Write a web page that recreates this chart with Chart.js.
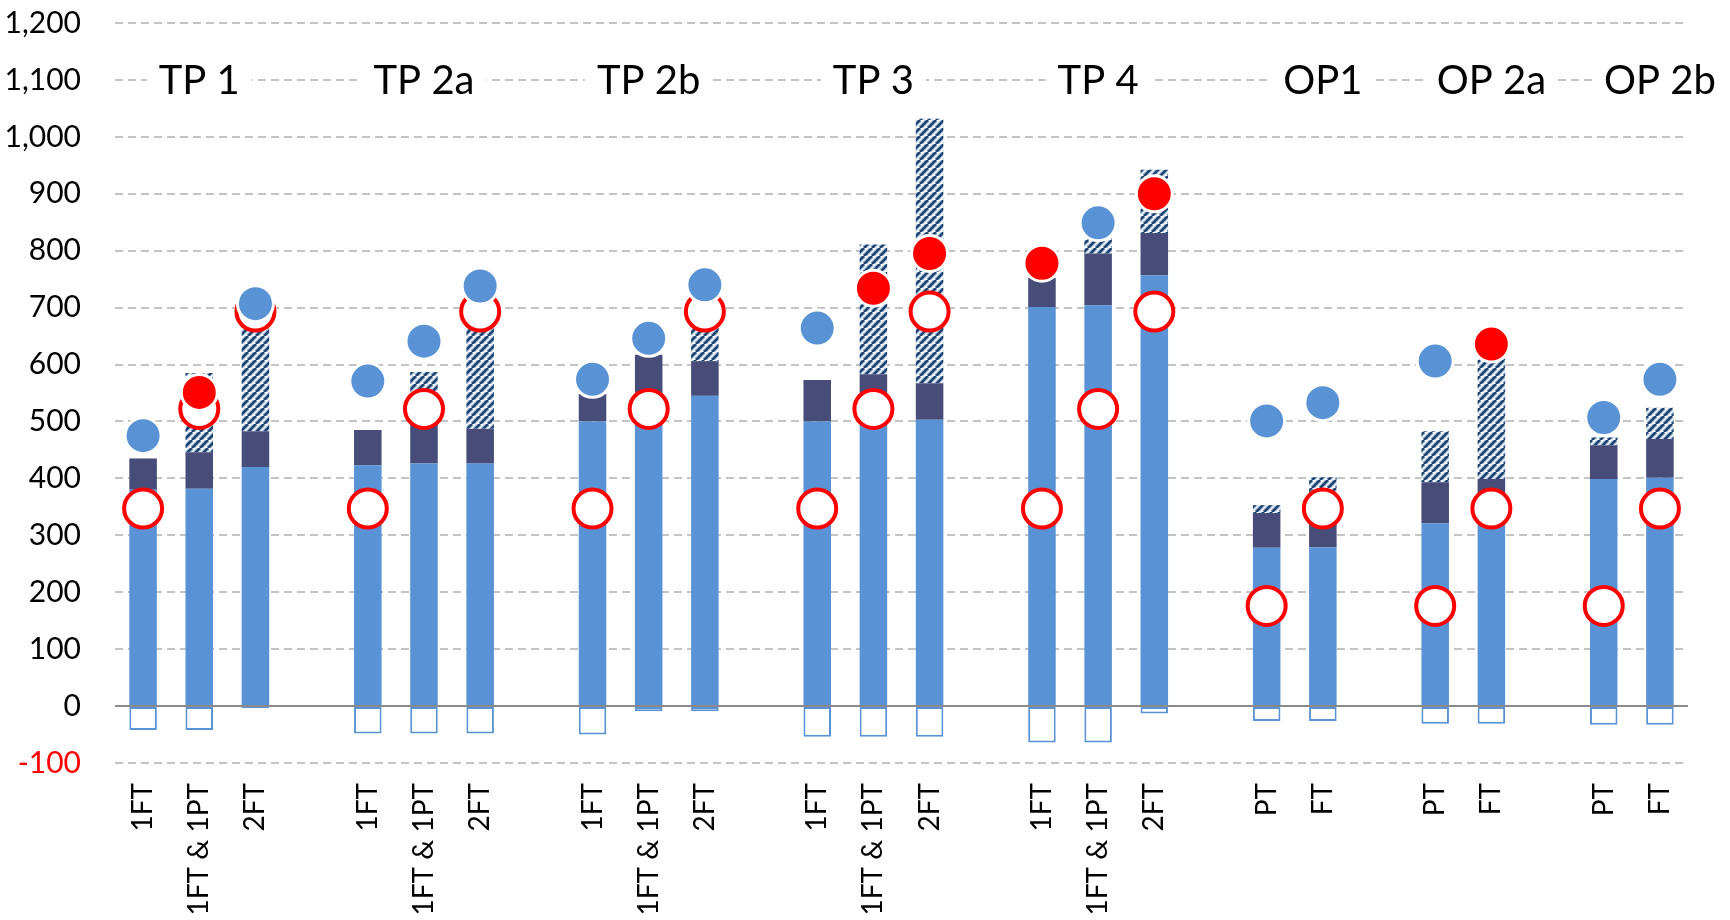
<!DOCTYPE html>
<html><head><meta charset="utf-8">
<script src="https://cdn.jsdelivr.net/npm/chart.js@4.4.0/dist/chart.umd.min.js"></script>
<style>html,body{margin:0;padding:0;background:#fff;} canvas{display:block;}</style>
</head><body>
<canvas id="c" width="1730" height="920"></canvas>
<script>
// ---- data ----
const categories = ['1FT','1FT & 1PT','2FT','', '1FT','1FT & 1PT','2FT','', '1FT','1FT & 1PT','2FT','',
  '1FT','1FT & 1PT','2FT','', '1FT','1FT & 1PT','2FT','', 'PT','FT','', 'PT','FT','', 'PT','FT'];
const baseValues   = [380,382,420,null, 423,426,426,null, 500,502,545,null, 500,502,503,null, 701,704,757,null, 278,279,null, 321,323,null, 399,401];
const navyValues   = [55,64,63,null, 62,71,61,null, 48,115,61,null, 73,81,64,null, 51,91,74,null, 61,91,null, 72,76,null, 59,68];
const hatchValues  = [0,139,207,null, 0,90,203,null, 0,0,74,null, 0,228,465,null, 0,27,111,null, 14,32,null, 90,211,null, 14,55];
const negValues    = [-42,-42,-4,null, -48,-48,-48,null, -50,-9,-9,null, -54,-54,-54,null, -64,-64,-13,null, -26,-26,null, -31,-31,null, -33,-33];
const blueDots     = [475,null,707,null, 571,641,738,null, 574,646,740,null, 664,null,null,null, null,849,null,null, 501,533,null, 606,null,null, 507,574];
const redDots      = [null,551,null,null, null,null,null,null, null,null,null,null, null,734,795,null, 778,null,900,null, null,null,null, null,636,null, null,null];
const openCircles  = [347,522,693,null, 347,522,693,null, 347,522,693,null, 347,522,693,null, 347,522,693,null, 176,347,null, 176,347,null, 176,347];
const groupLabels  = ['TP 1','TP 2a','TP 2b','TP 3','TP 4','OP1','OP 2a','OP 2b'];
const groupLabelAt = [1,5,9,13,17,21,24,27];
const groupLabelLevel = 1100;
const yMin = -100, yMax = 1200, yStep = 100;

// ---- styles ----
const LIGHT = 'rgb(90,147,213)';
const NAVY = 'rgb(71,76,121)';
function makeHatch(){
  const s = 8;
  const c = document.createElement('canvas'); c.width = s; c.height = s;
  const g = c.getContext('2d');
  g.fillStyle = '#fff'; g.fillRect(0,0,s,s);
  const draw = (col, w) => {
    g.strokeStyle = col; g.lineWidth = w; g.beginPath();
    for (const k of [-s,0,s]) { g.moveTo(k, s); g.lineTo(k+s, 0); }
    g.stroke();
  };
  draw('rgba(110,160,215,0.6)', 4.6);
  draw('rgb(33,66,108)', 2.6);
  return document.getElementById('c').getContext('2d').createPattern(c,'repeat');
}
const HATCH = makeHatch();

const groupLabelPlugin = {
  id: 'groupLabels',
  afterDatasetsDraw(chart) {
    const {ctx, scales:{x,y}} = chart;
    ctx.save();
    ctx.font = '40px Lato';
    ctx.textAlign = 'center';
    ctx.textBaseline = 'alphabetic';
    groupLabels.forEach((t,i)=>{
      const cx = x.getPixelForValue(groupLabelAt[i]);
      const cy = y.getPixelForValue(groupLabelLevel);
      const w = ctx.measureText(t).width;
      ctx.fillStyle = '#fff';
      ctx.fillRect(cx - w/2 - 12, cy - 6, w + 24, 12);
      ctx.fillStyle = '#000';
      ctx.fillText(t, cx, cy + 14);
    });
    ctx.restore();
  }
};

const barCommon = {type:'bar', stack:'s', barPercentage:0.49, categoryPercentage:1.0, borderWidth:0};
const pointCommon = {type:'line', showLine:false, spanGaps:false};

new Chart(document.getElementById('c'), {
  data: {
    labels: categories,
    datasets: [
      {...barCommon, label:'base', data: baseValues, backgroundColor: LIGHT, order: 3},
      {...barCommon, label:'navy', data: navyValues, backgroundColor: NAVY, order: 4},
      {...barCommon, label:'hatch', data: hatchValues, backgroundColor: HATCH, order: 5},
      {...barCommon, label:'neg', data: negValues, backgroundColor: '#fff', borderColor: LIGHT, borderWidth: 2, borderSkipped: false, order: 6},
      {...pointCommon, label:'open', data: openCircles, stack:'p3', order: 2,
        pointRadius: 19, pointBorderWidth: 4, pointBackgroundColor:'#fff', pointBorderColor:'#FF0000'},
      {...pointCommon, label:'blue', data: blueDots, stack:'p1', order: 1,
        pointRadius: 18, pointBorderWidth: 3, pointBackgroundColor: LIGHT, pointBorderColor:'#fff'},
      {...pointCommon, label:'red', data: redDots, stack:'p2', order: 0,
        pointRadius: 18, pointBorderWidth: 3, pointBackgroundColor:'#FF0000', pointBorderColor:'#fff'}
    ]
  },
  options: {
    responsive: false,
    devicePixelRatio: 1,
    animation: false,
    layout: {padding: {top: 22, right: 42, bottom: 0, left: 0}},
    plugins: {legend:{display:false}, tooltip:{enabled:false}},
    elements: {point: {hoverRadius: 18}},
    scales: {
      x: {
        stacked: true,
        offset: true,
        grid: {display:false, drawTicks:false},
        border: {display:false},
        ticks: {autoSkip:false, minRotation:90, maxRotation:90, padding: 20,
          color:'#000', font:{family:'Lato', size:28}},
        afterFit(scale){ scale.height = 157; scale.paddingLeft = 0; scale.paddingRight = 0; scale.paddingTop = 0; scale.paddingBottom = 0; }
      },
      y: {
        stacked: true,
        min: yMin, max: yMax,
        grid: {drawTicks:false, lineWidth: 2,
          color: (c) => c.tick && c.tick.value === 0 ? '#8a8a8a' : '#c4c4c4'},
        border: {display:false, dash: (c) => c.tick && c.tick.value === 0 ? [] : [8,5]},
        ticks: {stepSize: yStep, padding: 34,
          color: (c) => c.tick.value < 0 ? '#FF0000' : '#000',
          font: {family:'Lato', size:30},
          callback: (v) => v.toLocaleString('en-US')},
        afterFit(scale){ scale.width = 115; scale.paddingTop = 0; scale.paddingBottom = 0; }
      }
    }
  },
  plugins: [groupLabelPlugin]
});
</script>
</body></html>
